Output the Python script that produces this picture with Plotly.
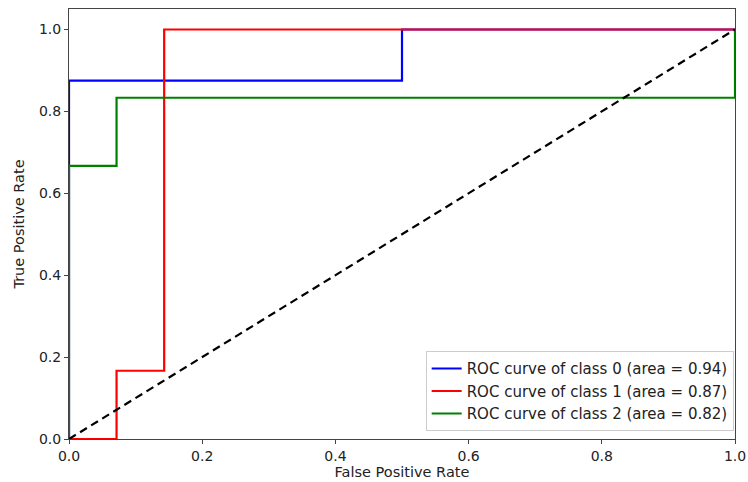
import plotly.graph_objects as go

fpr0 = [0.0, 0.0, 0.5, 0.5, 1.0]
tpr0 = [0.0, 0.875, 0.875, 1.0, 1.0]
fpr1 = [0.0, 0.0714, 0.0714, 0.1429, 0.1429, 1.0]
tpr1 = [0.0, 0.0, 0.1667, 0.1667, 1.0, 1.0]
fpr2 = [0.0, 0.0, 0.0714, 0.0714, 1.0, 1.0]
tpr2 = [0.0, 0.6667, 0.6667, 0.8333, 0.8333, 1.0]
labels = ["ROC curve of class 0 (area = 0.94)",
          "ROC curve of class 1 (area = 0.87)",
          "ROC curve of class 2 (area = 0.82)"]
colors = ["blue", "red", "green"]
diag = [0.0, 1.0]

fig = go.Figure()
for f, t, lab, c in zip([fpr0, fpr1, fpr2], [tpr0, tpr1, tpr2], labels, colors):
    fig.add_trace(go.Scatter(x=f, y=t, mode="lines", name=lab,
                             line=dict(color=c, width=2.2)))
fig.add_trace(go.Scatter(x=diag, y=diag, mode="lines", showlegend=False,
                         line=dict(color="black", width=2.2, dash="8px,5px")))

axis_common = dict(showgrid=False, zeroline=False, showline=True, mirror=True,
                   linecolor="#444", linewidth=1, ticks="outside", ticklen=4,
                   tickcolor="#444", tickfont=dict(size=14, color="#222"),
                   title_font=dict(size=14.5, color="#222"),
                   automargin=False, ticklabeloverflow="allow",
                   layer="below traces")
fig.update_layout(
    width=748, height=482,
    margin=dict(l=69, r=13, t=9, b=43),
    paper_bgcolor="white", plot_bgcolor="white",
    font=dict(family="DejaVu Sans", size=14, color="#222"),
    xaxis=dict(range=[0, 1], tickvals=[0, 0.2, 0.4, 0.6, 0.8, 1.0],
               ticktext=["0.0", "0.2", "0.4", "0.6", "0.8", "1.0"],
               title=dict(text="False Positive Rate", standoff=2), **axis_common),
    yaxis=dict(range=[0, 1.05], tickvals=[0, 0.2, 0.4, 0.6, 0.8, 1.0],
               ticktext=["0.0", "0.2", "0.4", "0.6", "0.8", "1.0"],
               title=dict(text="True Positive Rate", standoff=10), **axis_common),
    legend=dict(x=0.998, y=0.018, xanchor="right", yanchor="bottom",
                bgcolor="rgba(255,255,255,0.8)", bordercolor="#ccc", borderwidth=1,
                font=dict(size=15, color="#222"), tracegroupgap=0),
)
fig.write_html("out.html")
